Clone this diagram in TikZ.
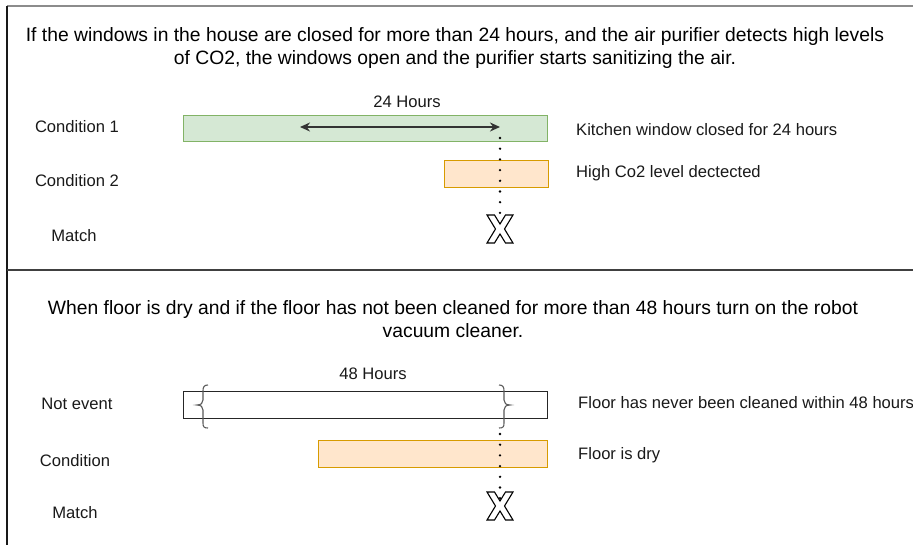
\documentclass[tikz,border=0pt]{standalone}
\usepackage{fontspec}
\setmainfont{Liberation Sans}
\usetikzlibrary{arrows.meta}
\begin{document}
\begin{tikzpicture}[x=1pt,y=-1pt,
  heading/.style={align=center,inner sep=0pt,font=\fontsize{19.3}{23}\selectfont},
  lbl/.style={inner sep=0pt,font=\fontsize{16.6}{19}\selectfont,text=black!90},
  bar/.style={draw,inner sep=0pt,line width=1pt,anchor=north west},
  greenbar/.style={bar,fill={rgb,255:red,213;green,232;blue,212},draw={rgb,255:red,130;green,179;blue,102}},
  orangebar/.style={bar,fill={rgb,255:red,255;green,230;blue,204},draw={rgb,255:red,215;green,155;blue,0}},
  plainbar/.style={bar,fill=white,draw=black!85},
  dimarrow/.style={{Stealth[length=10pt,width=9pt]}-{Stealth[length=10pt,width=9pt]},line width=1.6pt,draw=black!80},
  dotline/.style={line width=2.6pt,line cap=round,dash pattern=on 0pt off 10.7pt,draw=black},
  bracepath/.style={line width=1.1pt,draw=black!65},
  crossmark/.pic={\draw[line width=1.1pt,fill=white,line join=miter]
      (-13,-14) -- (-5.5,-14) -- (0,-5) -- (5.5,-14) -- (13,-14) -- (4.5,0) -- (13,14)
      -- (5.5,14) -- (0,5) -- (-5.5,14) -- (-13,14) -- (-4.5,0) -- cycle;}]
\useasboundingbox (0,0) rectangle (913,545);

% frame and divider
\draw[line width=1.2pt,draw=black!45] (7,6) -- (913,6);
\draw[line width=1.2pt,draw=black!90] (7,6) -- (7,545);
\draw[line width=2pt,draw=black!75] (7,270) -- (913,270);

% ---------- first rule ----------
\node[heading] (h1) at (455,48) {If the windows in the house are closed for more than 24 hours, and the air purifier detects high levels\\of CO2, the windows open and the purifier starts sanitizing the air.};

\node[lbl] (t1) at (77,127) {Condition 1};
\node[lbl] (t2) at (77,181) {Condition 2};
\node[lbl] (t3) at (74,236) {Match};

\node[greenbar,minimum width=364pt,minimum height=26pt] (c1) at (183,115) {};
\node[orangebar,minimum width=104pt,minimum height=27pt] (c2) at (444,160) {};

\node[lbl] (d1) at (407,102) {24 Hours};
\coordinate (a1) at (300,127);
\coordinate (a2) at (500,127);
\coordinate (x1) at (500,229);
\draw[dotline] (500,138) -- (x1);
\draw[dimarrow] (a1) -- (a2);
\pic at (x1) {crossmark};

\node[lbl,anchor=west] (r1) at (576,130) {Kitchen window closed for 24 hours};
\node[lbl,anchor=west] (r2) at (576,173) {High Co2 level dectected};

% ---------- second rule ----------
\node[heading] (h2) at (453,319) {When floor is dry and if the floor has not been cleaned for more than 48 hours turn on the robot\\vacuum cleaner.};

\node[lbl] (u1) at (77,404) {Not event};
\node[lbl] (u2) at (75,461) {Condition};
\node[lbl] (u3) at (75,513) {Match};

\node[plainbar,minimum width=364pt,minimum height=27pt] (n1) at (183,391) {};
\node[orangebar,minimum width=229pt,minimum height=27pt] (n2) at (318,440) {};

\node[lbl] (d2) at (373,374) {48 Hours};
\draw[bracepath] (208,385) .. controls (204,385) and (203,387) .. (203,391) -- (203,400)
  .. controls (203,403) and (201,405) .. (197,405) .. controls (201,405) and (203,407) .. (203,410)
  -- (203,423) .. controls (203,427) and (204,428) .. (208,428);
\draw[bracepath] (499,385) .. controls (503,385) and (504,387) .. (504,391) -- (504,400)
  .. controls (504,403) and (506,405) .. (510,405) .. controls (506,405) and (504,407) .. (504,410)
  -- (504,423) .. controls (504,427) and (503,428) .. (499,428);
\coordinate (x2) at (500,506);
\draw[dotline] (500,434) -- (x2);
\pic at (x2) {crossmark};

\node[lbl,anchor=west] (s1) at (578,403) {Floor has never been cleaned within 48 hours};
\node[lbl,anchor=west] (s2) at (578,455) {Floor is dry};
\end{tikzpicture}
\end{document}
